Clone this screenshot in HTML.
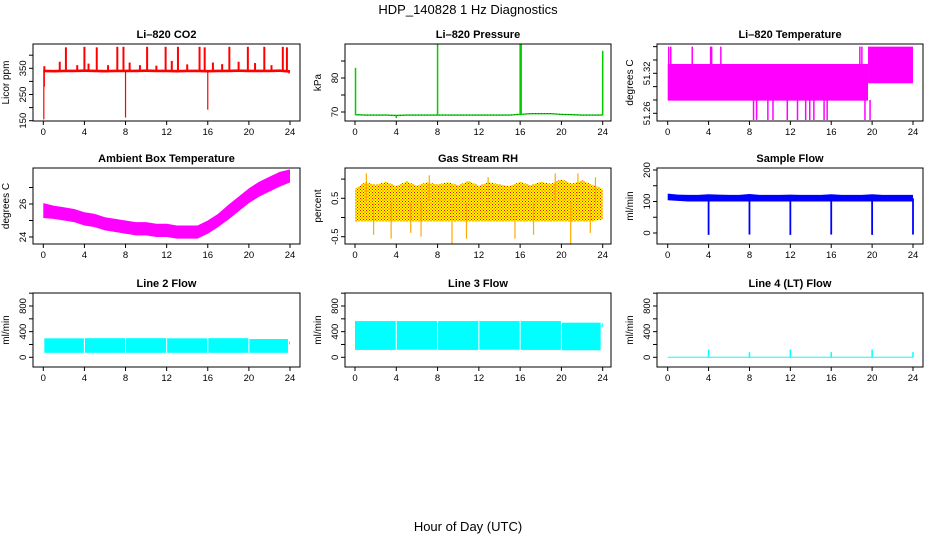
<!DOCTYPE html>
<html><head><meta charset="utf-8">
<style>
html,body{margin:0;padding:0;background:#fff;}
svg{display:block;font-family:"Liberation Sans",Arial,sans-serif;}
</style></head>
<body>
<svg id="chart" width="936" height="540" viewBox="0 0 936 540" xmlns="http://www.w3.org/2000/svg">
<defs>
<pattern id="rhDots" width="3" height="3" patternUnits="userSpaceOnUse">
<rect width="3" height="3" fill="#ffff00"/><rect x="0" y="0" width="1" height="1" fill="#ff0000"/><rect x="1.5" y="1.5" width="1" height="1" fill="#ff0000"/>
</pattern>
</defs>
<text x="468" y="14" text-anchor="middle" font-size="13">HDP_140828  1 Hz Diagnostics</text>
<text x="468" y="531" text-anchor="middle" font-size="13">Hour of Day (UTC)</text>
</svg>
<script>
// ---- data arrays ----
const hourTicks = [0,4,8,12,16,20,24];
const hours = [0,1,2,3,4,5,6,7,8,9,10,11,12,13,14,15,16,17,18,19,20,21,22,23,24];

const co2Base = [340,339,340,340,341,340,339,340,340,340,341,340,340,339,340,340,339,340,340,341,340,340,340,341,338];
const co2UpTimes = [0.1,1.6,2.2,3.3,4.0,4.4,5.2,6.3,7.2,7.8,8.4,9.4,10.1,11.0,11.9,12.5,13.1,14.0,15.2,15.7,16.5,17.4,18.1,19.0,19.9,20.6,21.5,22.2,23.3,23.7];
const co2UpVals = [358,375,430,362,432,368,430,362,432,432,372,362,432,360,432,378,432,365,432,430,372,366,432,375,432,370,432,362,432,430];
const co2DownTimes = [0.05,0.1,8.0,16.0,23.9];
const co2DownVals = [155,280,162,192,330];

const presBase = [69.2,69.1,69.1,69.1,69.0,69.1,69.1,69.1,69.1,69.1,69.1,69.1,69.1,69.1,69.1,69.1,69.3,69.5,69.5,69.5,69.3,69.2,69.1,69.1,69.1];
const presSpikeTimes = [0.05,4.0,8.0,16.0,16.1,24.0];
const presSpikeVals = [83,68.2,90,90,90,88];

const tempBandStarts = [0.0,19.6];
const tempBandEnds = [19.6,24.0];
const tempBandLow = [51.279,51.305];
const tempBandHigh = [51.334,51.36];
const tempUpTimes = [0.1,0.3,2.4,4.2,4.3,5.2,18.8,19.0];
const tempDownTimes = [8.4,8.7,9.8,10.3,11.7,12.7,13.5,13.9,14.3,15.3,15.6,19.3,19.8];

const ambMid = [25.6,25.5,25.4,25.3,25.1,25.0,24.8,24.7,24.6,24.5,24.5,24.4,24.4,24.3,24.3,24.3,24.6,25.0,25.5,26.0,26.5,26.9,27.2,27.5,27.7];
const ambHalf = [0.45,0.4,0.4,0.4,0.4,0.4,0.4,0.4,0.4,0.4,0.4,0.4,0.4,0.4,0.4,0.4,0.4,0.4,0.45,0.45,0.45,0.45,0.45,0.45,0.4];

const rhLow = [-0.1,-0.1,-0.1,-0.1,-0.1,-0.1,-0.1,-0.1,-0.1,-0.1,-0.1,-0.1,-0.1,-0.1,-0.1,-0.1,-0.1,-0.1,-0.1,-0.1,-0.1,-0.1,-0.1,-0.1,-0.05];
const rhHigh = [0.75,0.92,0.85,0.93,0.82,0.94,0.83,0.92,0.86,0.92,0.84,0.95,0.83,0.92,0.86,0.82,0.93,0.84,0.93,0.88,1.0,0.88,0.97,0.85,0.75];
const rhSpikeTimes = [1.1,1.8,3.5,5.4,6.4,7.2,9.4,10.8,12.9,15.5,17.3,19.4,20.9,21.6,22.8,23.3];
const rhSpikeVals = [1.15,-0.45,-0.55,-0.4,-0.5,1.1,-0.7,-0.55,1.05,-0.55,-0.45,1.15,-0.7,1.15,-0.4,1.05];

const sampleLow = [104,102,100,100,100,100,100,100,100,100,100,100,100,100,100,100,100,100,100,100,100,100,100,100,100];
const sampleHigh = [125,122,121,121,123,122,121,121,124,121,121,121,122,121,121,121,123,121,121,121,123,121,121,121,121];
const sampleDipTimes = [4,8,12,16,20,24];
const sampleDipVals = [-6,-5,-6,-5,-6,-5];

const line2Starts = [0.1,4.05,8.05,12.05,16.05,20.05,23.9];
const line2Ends = [3.95,7.95,11.95,15.95,19.95,23.8,24.0];
const line2Low = [70,70,70,70,70,70,200];
const line2High = [296,298,298,296,298,285,245];

const line3Starts = [0.0,4.05,8.05,12.05,16.05,20.05,23.9];
const line3Ends = [3.95,7.95,11.95,15.95,19.95,23.8,24.0];
const line3Low = [115,118,115,118,115,110,470];
const line3High = [565,565,565,565,565,540,530];

const line4Times = [4,8,12,16,20,24];
const line4Vals = [120,80,120,80,120,80];

// ---- helpers ----
const svg = document.getElementById('chart');
const NS = 'http://www.w3.org/2000/svg';
function mk(tag, attrs, parent){
  const e = document.createElementNS(NS, tag);
  for (const k in attrs) e.setAttribute(k, attrs[k]);
  (parent||svg).appendChild(e);
  return e;
}
function lin(v0,p0,v1,p1){ return v => p0 + (v-v0)*(p1-p0)/(v1-v0); }

const cols = [{bx0:33,bx1:300,h0:43.3,h24:290},{bx0:345,bx1:611,h0:355,h24:602.7},{bx0:657,bx1:923,h0:667.7,h24:913}];
const rows = [{by0:44,by1:121},{by0:168,by1:244},{by0:293,by1:367}];

function panel(name, title, ylabel, c, r, yv0, yp0, yv1, yp1, ticks, labels){
  const col = cols[c], row = rows[r];
  const g = mk('g', {});
  
  
  const x = lin(0,col.h0,24,col.h24);
  const y = lin(yv0,yp0,yv1,yp1);
  const t = mk('text',{x:(col.bx0+col.bx1)/2, y:row.by0-6, 'text-anchor':'middle','font-size':11,'font-weight':'bold'}, g);
  t.textContent = title;
  
  
  const yl = mk('text',{transform:`translate(${col.bx0-24},${(row.by0+row.by1)/2}) rotate(-90)`, 'text-anchor':'middle','font-size':10}, g);
  yl.textContent = ylabel;
  
  
  const plot = mk('g',{}, g);
  
  
  const xa = mk('g',{}, g);
  
  
  mk('line',{x1:x(0),x2:x(24),y1:row.by1,y2:row.by1,stroke:'#000'}, xa);
  hourTicks.forEach(h=>{
    mk('line',{x1:x(h),x2:x(h),y1:row.by1,y2:row.by1+4,stroke:'#000'}, xa);
    const tl = mk('text',{x:x(h),y:row.by1+14,'text-anchor':'middle','font-size':9.5}, xa);
    tl.textContent = h;
    
    
  });
  const ya = mk('g',{}, g);
  
  
  ticks.forEach(v=>{
    mk('line',{x1:col.bx0,x2:col.bx0-4,y1:y(v),y2:y(v),stroke:'#000'}, ya);
  });
  labels.forEach(v=>{
    const tl = mk('text',{transform:`translate(${col.bx0-7},${y(v)}) rotate(-90)`,'text-anchor':'middle','font-size':9.5}, ya);
    tl.textContent = v;
    
    
  });
  return {g, plot, x, y, col, row};
}
function frame(p){
  const b = mk('rect',{x:p.col.bx0,y:p.row.by0,width:p.col.bx1-p.col.bx0,height:p.row.by1-p.row.by0,fill:'none',stroke:'#000'}, p.g);
  
  
}
function band(p, lows, highs, fill){
  let pts = hours.map((h,i)=>`${p.x(h)},${p.y(highs[i])}`);
  pts = pts.concat(hours.slice().reverse().map((h,j)=>{const i=hours.length-1-j; return `${p.x(h)},${p.y(lows[i])}`;}));
  const e = mk('polygon',{points:pts.join(' '),fill:fill,stroke:'none'}, p.plot);
  
  
  return e;
}
function spike(p, t, from, to, color, w){
  const e = mk('line',{x1:p.x(t),x2:p.x(t),y1:p.y(from),y2:p.y(to),stroke:color,'stroke-width':w||1.5}, p.plot);
  
  
}
function seg(p, s, e2, lo, hi, fill){
  const e = mk('rect',{x:p.x(s),y:p.y(hi),width:Math.max(1,p.x(e2)-p.x(s)),height:p.y(lo)-p.y(hi),fill:fill}, p.plot);
  
  
}

let p = panel('co2-panel','Li\u2013820 CO2','Licor ppm',0,0,150,120.7,350,68.3,[150,200,250,300,350,400],[150,250,350]);
band(p, co2Base.map(v=>v-5), co2Base.map(v=>v+5), '#ff0000');
co2UpTimes.forEach((t,i)=>spike(p,t,340,co2UpVals[i],'#ff0000',2));
co2DownTimes.forEach((t,i)=>spike(p,t,340,co2DownVals[i],'#ff0000',1.2));
frame(p);

p = panel('pressure-panel','Li\u2013820 Pressure','kPa',1,0,70,112,80,78,[70,75,80,85],[70,80]);
band(p, presBase.map(v=>v-0.2), presBase.map(v=>v+0.2), '#00cc00');
const pl = mk('polyline',{points:hours.map((h,i)=>`${p.x(h)},${p.y(presBase[i])}`).join(' '),fill:'none',stroke:'#004400','stroke-width':0.6,'stroke-dasharray':'1 2'}, p.plot);


presSpikeTimes.forEach((t,i)=>spike(p,t,69.1,presSpikeVals[i],'#00cc00',1.5));
frame(p);

p = panel('li820-temperature-panel','Li\u2013820 Temperature','degrees C',2,0,51.26,113.3,51.32,73.3,[51.26,51.28,51.30,51.32,51.34,51.36],[51.26,51.32]);
tempBandStarts.forEach((s,i)=>seg(p,s,tempBandEnds[i],tempBandLow[i],tempBandHigh[i],'#ff00ff'));
tempUpTimes.forEach(t=>spike(p,t,51.33,51.36,'#ff00ff',1.5));
tempDownTimes.forEach(t=>spike(p,t,51.28,51.25,'#ff00ff',1.5));
frame(p);

p = panel('ambient-temperature-panel','Ambient Box Temperature','degrees C',0,1,24,237,26,204,[24,25,26,27],[24,26]);
band(p, ambMid.map((v,i)=>v-ambHalf[i]), ambMid.map((v,i)=>v+ambHalf[i]), '#ff00ff');
frame(p);

p = panel('rh-panel','Gas Stream RH','percent',1,1,-0.5,236.7,0.5,198.3,[-0.5,0,0.5,1.0],[-0.5,0.5]);
band(p, rhLow, rhHigh, 'url(#rhDots)');
rhSpikeTimes.forEach((t,i)=>spike(p,t,0.4,rhSpikeVals[i],'#ffaa00',1.2));
frame(p);

p = panel('sample-flow-panel','Sample Flow','ml/min',2,1,0,233,200,170,[0,50,100,150,200],[0,100,200]);
band(p, sampleLow, sampleHigh, '#0000ff');
sampleDipTimes.forEach((t,i)=>spike(p,t,110,sampleDipVals[i],'#0000ff',1.8));
frame(p);

p = panel('line2-flow-panel','Line 2 Flow','ml/min',0,2,0,357.3,800,306,[0,200,400,600,800,1000],[0,400,800]);
line2Starts.forEach((s,i)=>seg(p,s,line2Ends[i],line2Low[i],line2High[i],'#00ffff'));
frame(p);

p = panel('line3-flow-panel','Line 3 Flow','ml/min',1,2,0,357.3,800,306,[0,200,400,600,800,1000],[0,400,800]);
line3Starts.forEach((s,i)=>seg(p,s,line3Ends[i],line3Low[i],line3High[i],'#00ffff'));
frame(p);

p = panel('line4-flow-panel','Line 4 (LT) Flow','ml/min',2,2,0,357.3,800,306,[0,200,400,600,800,1000],[0,400,800]);
const bl = mk('line',{x1:p.x(0),x2:p.x(24),y1:p.y(0),y2:p.y(0),stroke:'#00ffff','stroke-width':1}, p.plot);


line4Times.forEach((t,i)=>spike(p,t,0,line4Vals[i],'#00ffff',1.5));
frame(p);
</script>
</body></html>
